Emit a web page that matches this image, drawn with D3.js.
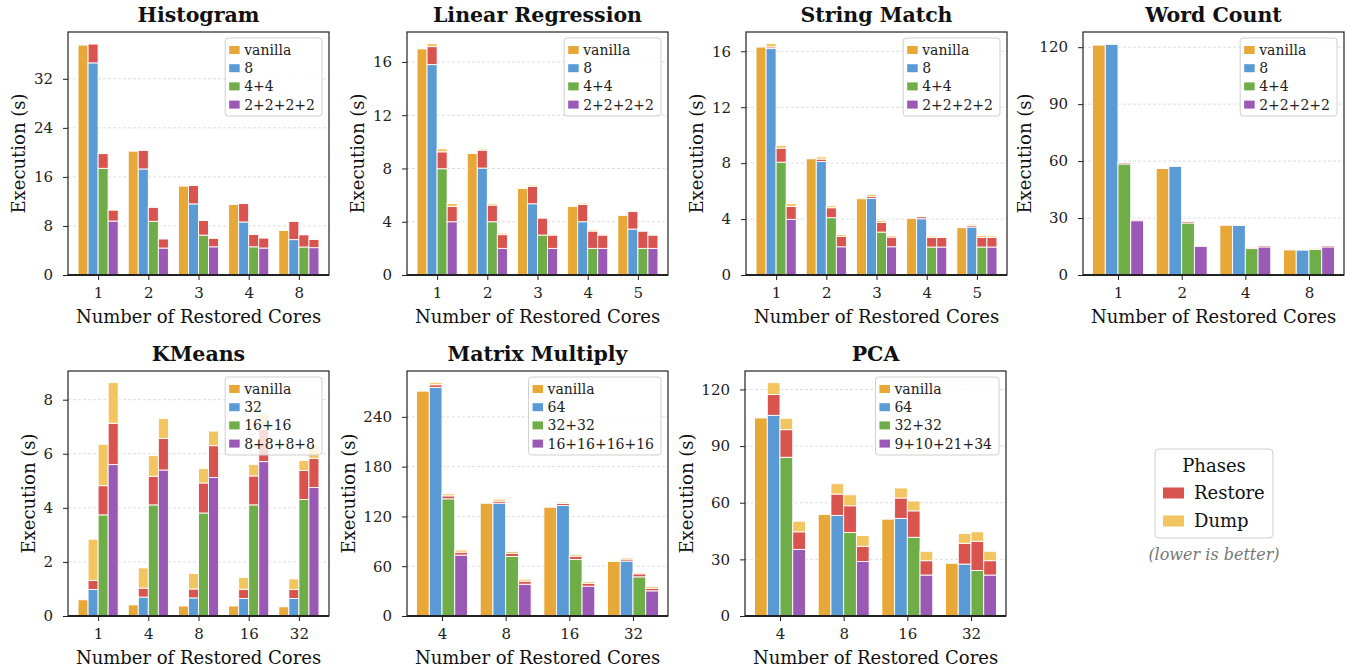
<!DOCTYPE html>
<html>
<head>
<meta charset="utf-8">
<script src="https://cdn.jsdelivr.net/npm/d3@7"></script>
<style>
  html, body { margin: 0; padding: 0; background: #fff; }
  svg { display: block; }
</style>
</head>
<body>
<svg id="chart" width="1357" height="672"></svg>
<script>
// Execution time per benchmark, stacked: run + restore + dump.
// One small panel per benchmark, shared "Phases" legend bottom right.

// --- Histogram ---
const histogramCores = ['1', '2', '3', '4', '8'];
const histogramConfigs = ['vanilla', '8', '4+4', '2+2+2+2'];
const histogramRun = [
  [37.5, 20.2, 14.5, 11.5, 7.25],
  [34.6, 17.3, 11.6, 8.65, 5.77],
  [17.4, 8.76, 6.5, 4.6, 4.57],
  [8.8, 4.4, 4.6, 4.4, 4.46],
];
const histogramRestore = [
  [0, 0, 0, 0, 0],
  [3.1, 3.05, 3.0, 3.0, 3.0],
  [2.4, 2.3, 2.4, 2.0, 2.0],
  [1.8, 1.5, 1.4, 1.65, 1.36],
];
const histogramDump = [
  [0, 0, 0, 0, 0],
  [0.05, 0.05, 0.05, 0.05, 0.05],
  [0.05, 0.05, 0.05, 0.05, 0.05],
  [0.05, 0.05, 0.05, 0.05, 0.05],
];
const histogramTicks = [0, 8, 16, 24, 32];

// --- Linear Regression ---
const linregCores = ['1', '2', '3', '4', '5'];
const linregConfigs = ['vanilla', '8', '4+4', '2+2+2+2'];
const linregRun = [
  [16.98, 9.13, 6.5, 5.15, 4.48],
  [15.8, 8.03, 5.35, 4.0, 3.45],
  [7.98, 4.0, 3.0, 2.0, 2.0],
  [4.0, 2.0, 2.0, 2.0, 2.0],
];
const linregRestore = [
  [0, 0, 0, 0, 0],
  [1.35, 1.35, 1.3, 1.3, 1.33],
  [1.27, 1.25, 1.28, 1.3, 1.3],
  [1.15, 1.03, 1.0, 1.0, 1.0],
];
const linregDump = [
  [0, 0, 0, 0, 0],
  [0.23, 0.1, 0.1, 0.1, 0.05],
  [0.23, 0.13, 0.07, 0.1, 0.05],
  [0.23, 0.12, 0.08, 0.08, 0.05],
];
const linregTicks = [0, 4, 8, 12, 16];

// --- String Match ---
const strmatchCores = ['1', '2', '3', '4', '5'];
const strmatchConfigs = ['vanilla', '8', '4+4', '2+2+2+2'];
const strmatchRun = [
  [16.3, 8.31, 5.45, 4.05, 3.38],
  [16.19, 8.12, 5.48, 4.02, 3.43],
  [8.07, 4.1, 3.07, 2.0, 2.0],
  [3.98, 2.02, 2.02, 2.0, 2.0],
];
const strmatchRestore = [
  [0, 0, 0, 0, 0],
  [0.12, 0.17, 0.14, 0.15, 0.12],
  [1.0, 0.71, 0.69, 0.69, 0.69],
  [0.92, 0.74, 0.69, 0.69, 0.69],
];
const strmatchDump = [
  [0, 0, 0, 0, 0],
  [0.24, 0.16, 0.14, 0.03, 0.09],
  [0.19, 0.14, 0.14, 0.1, 0.14],
  [0.2, 0.14, 0.12, 0.05, 0.1],
];
const strmatchTicks = [0, 4, 8, 12, 16];

// --- Word Count ---
const wordcountCores = ['1', '2', '4', '8'];
const wordcountConfigs = ['vanilla', '8', '4+4', '2+2+2+2'];
const wordcountRun = [
  [121.1, 56.1, 26.2, 13.2],
  [121.6, 57.3, 26.2, 13.2],
  [58.5, 27.4, 13.9, 13.5],
  [28.6, 15.1, 14.8, 14.8],
];
const wordcountRestore = [
  [0, 0, 0, 0],
  [0.2, 0.2, 0.1, 0.1],
  [0.7, 0.9, 0.7, 0.3],
  [0.7, 0.4, 0.8, 0.8],
];
const wordcountDump = [
  [0, 0, 0, 0],
  [0.1, 0.1, 0.1, 0.1],
  [0.1, 0.1, 0.2, 0.6],
  [0.2, 0.5, 0.1, 0.1],
];
const wordcountTicks = [0, 30, 60, 90, 120];

// --- KMeans ---
const kmeansCores = ['1', '4', '8', '16', '32'];
const kmeansConfigs = ['vanilla', '32', '16+16', '8+8+8+8'];
const kmeansRun = [
  [0.6, 0.41, 0.37, 0.37, 0.34],
  [0.98, 0.70, 0.67, 0.65, 0.65],
  [3.74, 4.11, 3.81, 4.11, 4.31],
  [5.6, 5.4, 5.12, 5.71, 4.75],
];
const kmeansRestore = [
  [0, 0, 0, 0, 0],
  [0.34, 0.33, 0.33, 0.34, 0.33],
  [1.08, 1.06, 1.11, 1.07, 1.07],
  [1.53, 1.17, 1.18, 1.2, 1.08],
];
const kmeansDump = [
  [0, 0, 0, 0, 0],
  [1.52, 0.75, 0.57, 0.43, 0.39],
  [1.53, 0.76, 0.53, 0.42, 0.37],
  [1.5, 0.73, 0.54, 0.54, 0.47],
];
const kmeansTicks = [0, 2, 4, 6, 8];

// --- Matrix Multiply ---
const matmulCores = ['4', '8', '16', '32'];
const matmulConfigs = ['vanilla', '64', '32+32', '16+16+16+16'];
const matmulRun = [
  [271, 135.9, 131.1, 65.8],
  [275.5, 135.9, 133.1, 66.2],
  [141.2, 71.8, 68.2, 47.2],
  [73.4, 38.3, 35.9, 30.3],
];
const matmulRestore = [
  [0, 0, 0, 0],
  [3.2, 2.5, 2.4, 2.4],
  [3.6, 3.6, 3.6, 3.6],
  [3.6, 3.7, 3.6, 3.2],
];
const matmulDump = [
  [0, 0, 0, 0],
  [2.5, 2.4, 1.7, 1.6],
  [2.4, 2.5, 2.0, 1.6],
  [2.5, 2.4, 2.0, 2.0],
];
const matmulTicks = [0, 60, 120, 180, 240];

// --- PCA ---
const pcaCores = ['4', '8', '16', '32'];
const pcaConfigs = ['vanilla', '64', '32+32', '9+10+21+34'];
const pcaRun = [
  [104.9, 53.8, 51.3, 27.9],
  [106.3, 53.3, 51.7, 27.5],
  [84.1, 44.2, 41.7, 24.1],
  [35.3, 28.9, 21.7, 21.7],
];
const pcaRestore = [
  [0, 0, 0, 0],
  [11.0, 11.3, 10.8, 11.0],
  [14.6, 14.2, 14.0, 15.5],
  [9.3, 8.0, 7.6, 7.6],
];
const pcaDump = [
  [0, 0, 0, 0],
  [6.3, 5.5, 5.3, 5.2],
  [6.0, 5.8, 5.2, 5.0],
  [5.6, 5.7, 5.0, 5.0],
];
const pcaTicks = [0, 30, 60, 90, 120];

const phaseNames = ['Restore', 'Dump'];

// Colours
const CONFIG_COLORS = ['#E8A838', '#5B9BD5', '#6EAD47', '#9B59B6'];
const RESTORE_COLOR = '#D9534F';
const DUMP_COLOR = '#F2C561';
const FONT = "'DejaVu Serif', serif";

const panels = [
  { title: 'Histogram', cores: histogramCores, configs: histogramConfigs, run: histogramRun, restore: histogramRestore, dump: histogramDump, ticks: histogramTicks, left: 68, top: 32, bottom: 275 },
  { title: 'Linear Regression', cores: linregCores, configs: linregConfigs, run: linregRun, restore: linregRestore, dump: linregDump, ticks: linregTicks, left: 407, top: 32, bottom: 275 },
  { title: 'String Match', cores: strmatchCores, configs: strmatchConfigs, run: strmatchRun, restore: strmatchRestore, dump: strmatchDump, ticks: strmatchTicks, left: 746, top: 32, bottom: 275 },
  { title: 'Word Count', cores: wordcountCores, configs: wordcountConfigs, run: wordcountRun, restore: wordcountRestore, dump: wordcountDump, ticks: wordcountTicks, left: 1083, top: 32, bottom: 275 },
  { title: 'KMeans', cores: kmeansCores, configs: kmeansConfigs, run: kmeansRun, restore: kmeansRestore, dump: kmeansDump, ticks: kmeansTicks, left: 68, top: 371, bottom: 616 },
  { title: 'Matrix Multiply', cores: matmulCores, configs: matmulConfigs, run: matmulRun, restore: matmulRestore, dump: matmulDump, ticks: matmulTicks, left: 407, top: 371, bottom: 616 },
  { title: 'PCA', cores: pcaCores, configs: pcaConfigs, run: pcaRun, restore: pcaRestore, dump: pcaDump, ticks: pcaTicks, left: 745, top: 371, bottom: 616 },
];
const AX_W = 261;
const FS_TICK = 15, FS_LEG = 14, FS_LABEL = 18, FS_TITLE = 20.5;

const svg = d3.select('#chart');
svg.append('rect').attr('width', 1357).attr('height', 672).attr('fill', '#fff');

panels.forEach(drawPanel);
drawPhaseLegend();

function drawPanel(p) {
  const n = p.cores.length;
  const pad = 0.4 + 0.05 * (n - 1);
  const right = p.left + AX_W;

  // Stack segments: run, restore, dump
  const segs = [];
  p.configs.forEach((cfg, ci) => {
    p.cores.forEach((core, gi) => {
      const r = p.run[ci][gi], rs = p.restore[ci][gi], du = p.dump[ci][gi];
      const xc = gi + (ci - 1.5) * 0.2;
      segs.push({ xc, y0: 0, y1: r, color: CONFIG_COLORS[ci] });
      if (rs > 0) segs.push({ xc, y0: r, y1: r + rs, color: RESTORE_COLOR });
      if (du > 0) segs.push({ xc, y0: r + rs, y1: r + rs + du, color: DUMP_COLOR });
    });
  });
  const maxTotal = d3.max(segs, d => d.y1);

  const x = d3.scaleLinear().domain([-pad, n - 1 + pad]).range([p.left, right]);
  const y = d3.scaleLinear().domain([0, maxTotal * 1.05]).range([p.bottom, p.top]);

  const g = svg.append('g');

  // Grid
  g.selectAll('.grid').data(p.ticks.filter(t => t > 0)).enter().append('line')
    .attr('x1', p.left).attr('x2', right)
    .attr('y1', d => y(d)).attr('y2', d => y(d))
    .attr('stroke', '#d6d6d6').attr('stroke-width', 0.8)
    .attr('stroke-dasharray', '3,2');

  // Bars
  g.selectAll('.seg').data(segs).enter().append('rect')
    .attr('x', d => x(d.xc - 0.1))
    .attr('width', x(0.2) - x(0))
    .attr('y', d => y(d.y1))
    .attr('height', d => y(d.y0) - y(d.y1))
    .attr('fill', d => d.color)
    .attr('stroke', '#fff').attr('stroke-width', 0.9);

  // Frame
  g.append('rect')
    .attr('x', p.left).attr('y', p.top)
    .attr('width', AX_W).attr('height', p.bottom - p.top)
    .attr('fill', 'none').attr('stroke', '#222').attr('stroke-width', 1.2);
  g.append('line')
    .attr('x1', p.left).attr('x2', right)
    .attr('y1', p.bottom).attr('y2', p.bottom)
    .attr('stroke', '#222').attr('stroke-width', 2);

  // Y axis
  const yAxis = d3.axisLeft(y).tickValues(p.ticks).tickSize(5).tickPadding(10);
  const ya = g.append('g').attr('transform', `translate(${p.left},0)`).call(yAxis);
  ya.select('.domain').remove();
  ya.selectAll('.tick line').attr('stroke', '#222').attr('stroke-width', 1);
  ya.selectAll('.tick text')
    .attr('font-family', FONT).attr('font-size', FS_TICK).attr('fill', '#222');

  // X axis
  const xAxis = d3.axisBottom(x).tickValues(d3.range(n)).tickFormat(i => p.cores[i])
    .tickSize(5).tickPadding(7);
  const xa = g.append('g').attr('transform', `translate(0,${p.bottom})`).call(xAxis);
  xa.select('.domain').remove();
  xa.selectAll('.tick line').attr('stroke', '#222').attr('stroke-width', 1);
  xa.selectAll('.tick text')
    .attr('font-family', FONT).attr('font-size', FS_TICK).attr('fill', '#222');

  // Labels
  let maxTickW = 0;
  ya.selectAll('.tick text').each(function() {
    maxTickW = Math.max(maxTickW, this.getComputedTextLength());
  });
  const ylx = p.left - 15 - maxTickW - 15;
  const ymid = (p.top + p.bottom) / 2;
  g.append('text')
    .attr('transform', `translate(${ylx},${ymid}) rotate(-90)`)
    .attr('text-anchor', 'middle').attr('dy', '0.35em')
    .attr('font-family', FONT).attr('font-size', FS_LABEL).attr('fill', '#111')
    .text('Execution (s)');

  g.append('text')
    .attr('x', (p.left + right) / 2).attr('y', p.bottom + 42)
    .attr('text-anchor', 'middle').attr('dy', '0.35em')
    .attr('font-family', FONT).attr('font-size', FS_LABEL).attr('fill', '#111')
    .text('Number of Restored Cores');

  g.append('text')
    .attr('x', (p.left + right) / 2).attr('y', p.top - 17.5)
    .attr('text-anchor', 'middle').attr('dy', '0.36em')
    .attr('font-family', FONT).attr('font-size', FS_TITLE).attr('font-weight', 'bold')
    .attr('fill', '#111')
    .text(p.title);

  // Legend (configs)
  const lg = g.append('g');
  const frame = lg.append('rect');
  const texts = [];
  p.configs.forEach((cfg, ci) => {
    texts.push(lg.append('text')
      .attr('y', p.top + 18 + ci * 18.2).attr('dy', '0.35em')
      .attr('font-family', FONT).attr('font-size', FS_LEG).attr('fill', '#222')
      .text(cfg));
  });
  const maxW = d3.max(texts, t => t.node().getComputedTextLength());
  const boxW = 19 + maxW + 7;
  const boxL = right - 7 - boxW;
  const boxT = p.top + 6;
  frame.attr('x', boxL).attr('y', boxT).attr('width', boxW).attr('height', 78)
    .attr('rx', 3).attr('fill', '#fff').attr('fill-opacity', 0.8)
    .attr('stroke', '#cfcfcf').attr('stroke-width', 1);
  texts.forEach(t => t.attr('x', boxL + 19));
  p.configs.forEach((cfg, ci) => {
    lg.append('rect')
      .attr('x', boxL + 4).attr('y', p.top + 18 + ci * 18.2 - 4)
      .attr('width', 10.5).attr('height', 8)
      .attr('fill', CONFIG_COLORS[ci]);
  });
}

function drawPhaseLegend() {
  const g = svg.append('g');
  const colors = [RESTORE_COLOR, DUMP_COLOR];
  g.append('rect')
    .attr('x', 1155).attr('y', 449).attr('width', 118).attr('height', 89)
    .attr('rx', 4).attr('fill', '#fff').attr('stroke', '#cfcfcf').attr('stroke-width', 1);
  g.append('text')
    .attr('x', 1214).attr('y', 466).attr('dy', '0.35em').attr('text-anchor', 'middle')
    .attr('font-family', FONT).attr('font-size', 18).attr('fill', '#111')
    .text('Phases');
  phaseNames.forEach((name, i) => {
    const cy = 493 + i * 28;
    g.append('rect')
      .attr('x', 1163).attr('y', cy - 5.5).attr('width', 21).attr('height', 11)
      .attr('fill', colors[i]);
    g.append('text')
      .attr('x', 1194).attr('y', cy).attr('dy', '0.35em')
      .attr('font-family', FONT).attr('font-size', 18).attr('fill', '#111')
      .text(name);
  });
  g.append('text')
    .attr('x', 1214).attr('y', 554).attr('dy', '0.35em').attr('text-anchor', 'middle')
    .attr('font-family', FONT).attr('font-size', 16).attr('font-style', 'italic')
    .attr('fill', '#777')
    .text('(lower is better)');
}
</script>
</body>
</html>
